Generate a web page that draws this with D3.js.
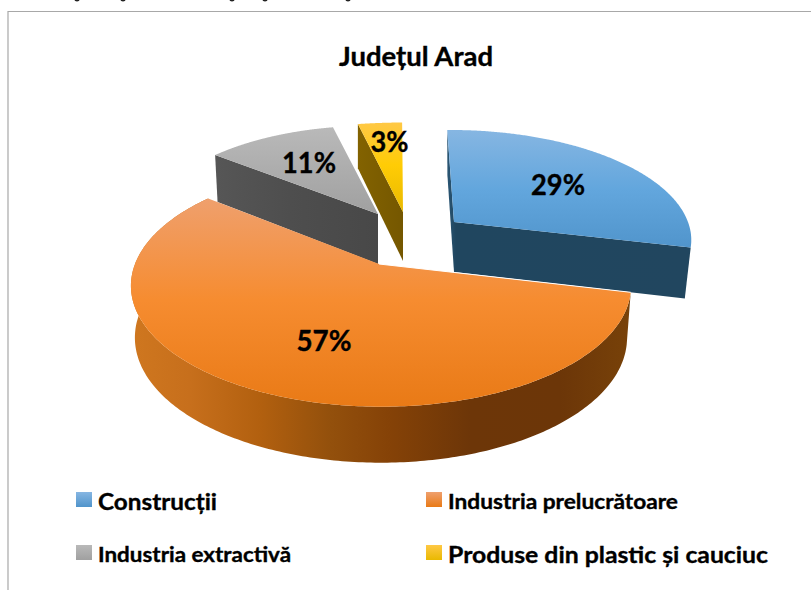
<!DOCTYPE html>
<html><head><meta charset="utf-8">
<script src="https://cdn.jsdelivr.net/npm/d3@7"></script>
<style>html,body{margin:0;padding:0;background:#fff;overflow:hidden}svg{display:block}text{font-family:Lato,Carlito,sans-serif;font-weight:700;fill:#000;stroke:#000;stroke-width:.35px}</style>
</head><body><svg id="c" width="811" height="590"></svg>
<script>
const categories = ["Construcții","Industria prelucrătoare","Industria extractivă","Produse din plastic și cauciuc"];
const values = [29,57,11,3];
const labels = ["29%","57%","11%","3%"];
const chartTitle = "Județul Arad";

const W=811,H=590, N=256, ROT=-1*Math.PI/180;
const views=[
 {x:454,y:222,a:234,b:105.8,k:.15,o:0,lean:.035,h:50,s:.975},
 {x:379,y:264,a:246,b:117,k:.18,o:2,lean:0,h:51,s:.984},
 {x:378,y:214,a:230,b:107,k:.212,o:0,lean:.07,h:50,s:.985},
 {x:403,y:212,a:285,b:108.5,k:.212,o:0,lean:-.036,h:49,s:1}
];
const topStops=[
 [[130,"#86b6e2"],[190,"#62a6dd"],[250,"#5094cb"]],
 [[197,"#efa06e"],[300,"#f68c30"],[407,"#e97a16"]],
 [[128,"#b9b9b9"],[214,"#a0a0a0"]],
 [[123,"#ffc845"],[165,"#ffcc05"],[212,"#e9b900"]]
];
const wallStops=[
 [[448,"#2a5573"],[456,"#20465f"],[691,"#21465f"]],
 [[131,"#cf771f"],[190,"#c76f1c"],[260,"#b2600f"],[330,"#93500c"],[390,"#854207"],[470,"#6d3608"],[560,"#6c3608"],[632,"#784209"]],
 [[216,"#565656"],[290,"#4e4e4e"],[378,"#484848"]],
 [[359,"#826200"],[403,"#755700"]]
];
const labelPos=[[558,195,54],[324,351,55],[309,173,54],[389.5,152,38]];
const legendPos=[[76,492,98,510,22,119],[426,492,448,509,20.5,230],[76,545,98,562,20.5,193],[426,545,448,563,23.5,320]];
const cropMarks=[77,123,232,265,348];

const svg=d3.select("#c"), defs=svg.append("defs");
function grad(id,stops,vertical){
  const lo=stops[0][0], hi=stops[stops.length-1][0];
  const g=defs.append("linearGradient").attr("id",id).attr("gradientUnits","userSpaceOnUse");
  vertical? g.attr("x1",0).attr("x2",0).attr("y1",lo).attr("y2",hi)
          : g.attr("y1",0).attr("y2",0).attr("x1",lo).attr("x2",hi);
  g.selectAll("stop").data(stops).join("stop")
   .attr("offset",d=>(d[0]-lo)/(hi-lo)).attr("stop-color",d=>d[1]);
}
topStops.forEach((s,i)=>{grad("t"+i,s,true);grad("w"+i,wallStops[i],false);
  const g=defs.append("linearGradient").attr("id","l"+i).attr("x1",0).attr("x2",0).attr("y1",0).attr("y2",1);
  g.selectAll("stop").data([s[0],s[s.length-1]]).join("stop").attr("offset",(d,j)=>j).attr("stop-color",d=>d[1]);
});

const arcs=d3.pie().sort(null).value(d=>d).startAngle(ROT).endAngle(ROT+2*Math.PI)(values);
const line=d3.line();
function rim(v,t){
  const X=Math.sin(t),Y=Math.cos(t),w=1+v.k*Y;
  const dy=-v.b*Y/w, dx=v.a*X/w+v.lean*dy+v.o;
  return {x:v.x+dx,y:v.y+dy,Y};
}
const apex=v=>({x:v.x,y:v.y,Y:0});
const low=(v,p)=>({x:v.x+(p.x-v.x)*v.s,y:p.y+v.h-5*p.Y,Y:p.Y});
const xy=p=>[p.x,p.y];
function rimPts(v,a0,a1){return d3.range(N+1).map(i=>rim(v,a0+(a1-a0)*i/N));}
function band(v,pts){return line([...pts.map(xy),...pts.slice().reverse().map(p=>xy(low(v,p)))])+"Z";}

// Back-to-front: yellow, gray, blue, orange
[3,2,0,1].forEach(i=>{
  const v=views[i],d=arcs[i],g=svg.append("g");
  const arc=rimPts(v,d.startAngle,d.endAngle), A=apex(v);
  const wall=`url(#w${i})`;
  if(i===0){
    g.append("path").attr("d",band(v,[arc[0],A])).attr("fill",wall);
    g.append("path").attr("d",band(v,[A,arc[N]])).attr("fill",wall);
  } else if(i===1){
    g.append("path").attr("d",band(v,arc)).attr("fill",wall);
  } else {
    g.append("path").attr("d",band(v,[arc[0],A])).attr("fill",wall);
  }
  g.append("path").attr("d",line([xy(A),...arc.map(xy)])+"Z").attr("fill",`url(#t${i})`);
  if(i===1) g.append("path").attr("d",line([xy(A),xy(arc[0])])).attr("stroke","#fff").attr("stroke-width",1).attr("fill","none");
});

svg.append("path").attr("d",line([[8,H],[8,11.5],[W,11.5]])).attr("fill","none").attr("stroke","#a8a8a8").attr("stroke-width",1.2);
svg.selectAll("ellipse.m").data(cropMarks).join("ellipse").attr("cx",d=>d).attr("cy",0).attr("rx",2.5).attr("ry",1.4).attr("fill","#222");

svg.append("text").attr("x",416).attr("y",66).attr("text-anchor","middle").attr("font-size",26)
  .attr("textLength",154).attr("lengthAdjust","spacingAndGlyphs").text(chartTitle);

svg.selectAll("text.v").data(labels).join("text").attr("class","v")
  .attr("x",(d,i)=>labelPos[i][0]).attr("y",(d,i)=>labelPos[i][1]).attr("text-anchor","middle")
  .attr("font-size",28).attr("textLength",(d,i)=>labelPos[i][2]).attr("lengthAdjust","spacingAndGlyphs").text(d=>d);

categories.forEach((c,i)=>{
  const p=legendPos[i];
  svg.append("rect").attr("x",p[0]).attr("y",p[1]).attr("width",16).attr("height",15).attr("fill",`url(#l${i})`);
  svg.append("text").attr("x",p[2]).attr("y",p[3]).attr("font-size",p[4])
    .attr("textLength",p[5]).attr("lengthAdjust","spacingAndGlyphs").text(c);
});
</script></body></html>
